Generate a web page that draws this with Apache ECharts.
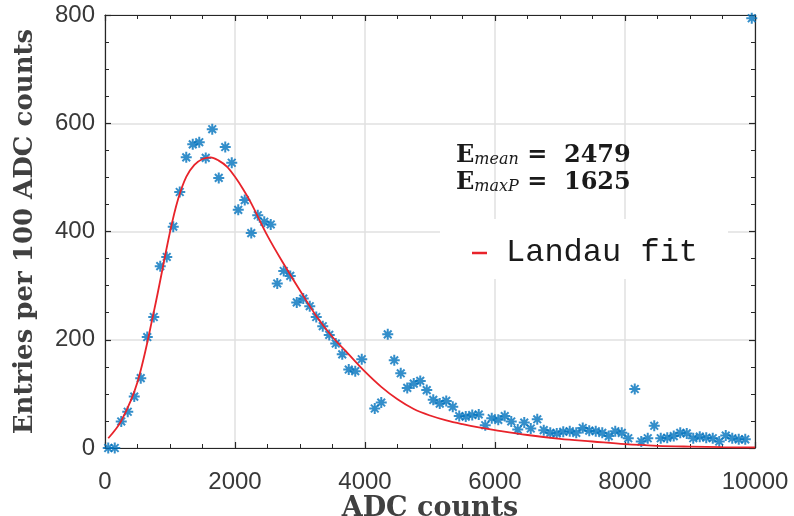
<!DOCTYPE html>
<html>
<head>
<meta charset="utf-8">
<script src="https://cdn.jsdelivr.net/npm/echarts@6/dist/echarts.min.js"></script>
<style>
  html, body { margin: 0; padding: 0; background: #fff; }
  #chart { width: 794px; height: 516px; }
</style>
</head>
<body>
<div id="chart"></div>
<script>
// histogram bins (centre of each 100 ADC bin) and entries
const adcBins = [50, 150, 250, 350, 450, 550, 650, 750, 850, 950,
  1050, 1150, 1250, 1350, 1450, 1550, 1650, 1750, 1850, 1950,
  2050, 2150, 2250, 2350, 2450, 2550, 2650, 2750, 2850, 2950,
  3050, 3150, 3250, 3350, 3450, 3550, 3650, 3750, 3850, 3950,
  4150, 4250, 4350, 4450, 4550, 4650, 4750, 4850, 4950,
  5050, 5150, 5250, 5350, 5450, 5550, 5650, 5750, 5850, 5950,
  6050, 6150, 6250, 6350, 6450, 6550, 6650, 6750, 6850, 6950,
  7050, 7150, 7250, 7350, 7450, 7550, 7650, 7750, 7850, 7950,
  8050, 8150, 8250, 8350, 8450, 8550, 8650, 8750, 8850, 8950,
  9050, 9150, 9250, 9350, 9450, 9550, 9650, 9750, 9850, 9950];
const entries = [0, 0, 49, 67, 95, 129, 205, 242, 336, 353,
  409, 473, 537, 561, 565, 536, 589, 499, 556, 527,
  440, 458, 397, 430, 418, 413, 304, 327, 318, 269,
  276, 262, 242, 225, 209, 193, 173, 145, 142, 164,
  73, 84, 210, 162, 138, 111, 119, 124, 107,
  89, 82, 87, 76, 59, 58, 61, 62, 42, 55,
  52, 59, 49, 34, 47, 36, 53, 33, 28, 27,
  30, 31, 28, 37, 32, 31, 28, 22, 31, 28,
  18, 109, 12, 18, 41, 18, 19, 22, 28, 27,
  18, 21, 19, 18, 12, 23, 18, 16, 16, 794];

// Landau fit curve
const fitX = [50, 250, 500, 750, 1000, 1125, 1250, 1375, 1500, 1625,
  1750, 1875, 2000, 2125, 2250, 2500, 2750, 3000, 3250, 3500,
  3750, 4000, 4250, 4500, 4750, 5000, 5250, 5500, 5750, 6000,
  6500, 7000, 7500, 8000, 8500, 9000, 9500, 10000];
const fitY = [18, 50, 122, 251, 399, 460, 501, 523, 534, 537,
  531, 520, 501, 478, 452, 392, 340, 291, 244, 205,
  173, 141, 113, 90, 72, 60, 51, 44, 38, 33,
  24, 17, 12, 7, 4, 2.5, 1.5, 1];

const xTicks = { min: 0, max: 10000, interval: 2000 };
const yTicks = { min: 0, max: 800, interval: 200 };

const axisColor = '#262626';
const labelFont = 'Liberation Sans';
const nameFont = 'DejaVu Serif';

// mirrored axes for the MATLAB style box (ticks only)
function boxAxis(pos, range) {
  return {
    type: 'value',
    position: pos,
    min: range.min,
    max: range.max,
    interval: range.interval,
    axisLine: { show: true, onZero: false, lineStyle: { color: axisColor, width: 1.2 } },
    axisTick: { show: true, inside: true, length: 6, lineStyle: { color: axisColor, width: 1.2 } },
    minorTick: { show: true, splitNumber: 4, length: 4, lineStyle: { color: axisColor, width: 1 } },
    axisLabel: { show: false },
    splitLine: { show: false }
  };
}

const chart = echarts.init(document.getElementById('chart'));

const richSub = {
  e: { fontFamily: nameFont, fontWeight: 'bold', fontSize: 24, lineHeight: 24, verticalAlign: 'bottom', fill: '#1a1a1a' },
  s: { fontFamily: nameFont, fontStyle: 'italic', fontSize: 16, lineHeight: 12, verticalAlign: 'bottom', fill: '#1a1a1a' },
  n: { fontFamily: nameFont, fontWeight: 'bold', fontSize: 24, lineHeight: 24, verticalAlign: 'bottom', fill: '#1a1a1a' }
};

chart.setOption({
  animation: false,
  backgroundColor: '#fff',
  grid: { left: 105, right: 39, top: 15, bottom: 68, outerBoundsMode: 'none' },
  legend: {
    data: ['Landau fit'],
    left: 440,
    top: 219,
    backgroundColor: '#fff',
    padding: [18, 30, 10, 32],
    icon: 'rect',
    itemWidth: 15,
    itemHeight: 2.5,
    selectedMode: false,
    textStyle: { fontFamily: 'Liberation Mono', fontSize: 32, color: '#1a1a1a', padding: [0, 0, 0, 14] }
  },
  xAxis: [
    {
      type: 'value',
      position: 'bottom',
      min: xTicks.min,
      max: xTicks.max,
      interval: xTicks.interval,
      name: 'ADC counts',
      nameLocation: 'middle',
      nameGap: 47,
      nameMoveOverlap: false,
      nameTextStyle: { fontFamily: nameFont, fontWeight: 'bold', fontSize: 27, color: '#404040' },
      axisLine: { show: true, onZero: false, lineStyle: { color: axisColor, width: 1.2 } },
      axisTick: { show: true, inside: true, length: 6, lineStyle: { color: axisColor, width: 1.2 } },
      minorTick: { show: true, splitNumber: 4, length: 4, lineStyle: { color: axisColor, width: 1 } },
      axisLabel: { fontFamily: labelFont, fontSize: 24, color: '#383838', margin: 22, formatter: v => String(v) },
      splitLine: { show: true, lineStyle: { color: '#e0e0e0', width: 1.5 } }
    },
    boxAxis('top', xTicks)
  ],
  yAxis: [
    {
      type: 'value',
      position: 'left',
      min: yTicks.min,
      max: yTicks.max,
      interval: yTicks.interval,
      name: 'Entries per 100 ADC counts',
      nameLocation: 'middle',
      nameGap: 67,
      nameMoveOverlap: false,
      nameTextStyle: { fontFamily: nameFont, fontWeight: 'bold', fontSize: 26, color: '#404040' },
      axisLine: { show: true, onZero: false, lineStyle: { color: axisColor, width: 1.2 } },
      axisTick: { show: true, inside: true, length: 6, lineStyle: { color: axisColor, width: 1.2 } },
      minorTick: { show: true, splitNumber: 4, length: 4, lineStyle: { color: axisColor, width: 1 } },
      axisLabel: { fontFamily: labelFont, fontSize: 24, color: '#383838', margin: 10, formatter: v => String(v) },
      splitLine: { show: true, lineStyle: { color: '#e0e0e0', width: 1.5 } }
    },
    boxAxis('right', yTicks)
  ],
  graphic: [
    {
      type: 'text',
      left: 456,
      top: 144,
      z: 10,
      style: { text: '{e|E}{s|mean}{n| =  2479}', rich: richSub }
    },
    {
      type: 'text',
      left: 456,
      top: 171,
      z: 10,
      style: { text: '{e|E}{s|maxP}{n| =  1625}', rich: richSub }
    }
  ],
  series: [
    {
      name: 'Entries',
      type: 'scatter',
      xAxisIndex: 0,
      yAxisIndex: 0,
      clip: false,
      symbol: 'path://M5,0L5,10M0,5L10,5M1.5,1.5L8.5,8.5M8.5,1.5L1.5,8.5',
      symbolSize: 11,
      itemStyle: { color: '#0072BD', borderColor: '#0072BD', borderWidth: 2 },
      data: adcBins.map((x, i) => [x, entries[i]]),
      z: 3
    },
    {
      name: 'Landau fit',
      type: 'line',
      xAxisIndex: 0,
      yAxisIndex: 0,
      showSymbol: false,
      smooth: 0.35,
      lineStyle: { color: '#e8232a', width: 1.8 },
      itemStyle: { color: '#e8232a' },
      data: fitX.map((x, i) => [x, fitY[i]]),
      z: 4
    }
  ]
});
</script>
</body>
</html>
